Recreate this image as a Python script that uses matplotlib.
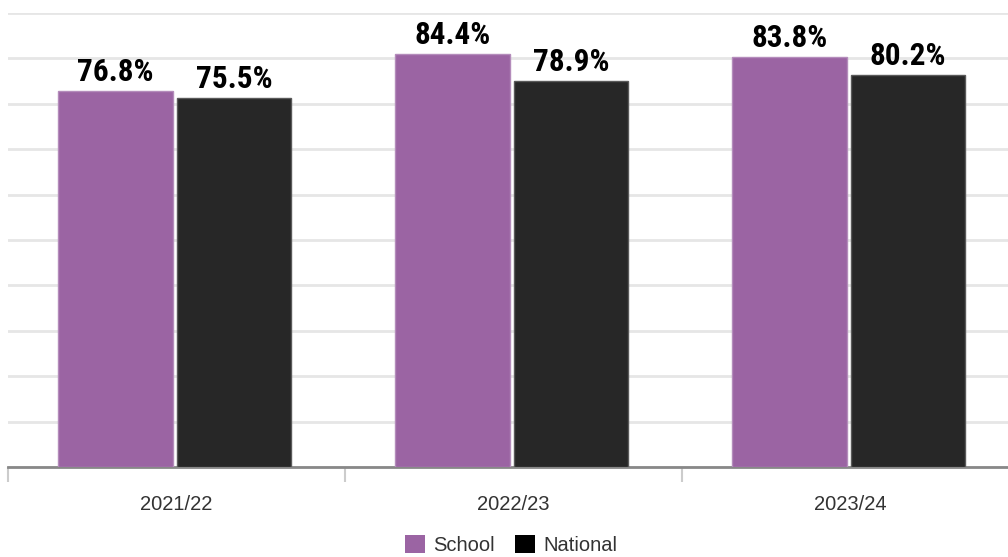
import matplotlib
matplotlib.use("Agg")
import matplotlib.pyplot as plt
from matplotlib.patches import Patch
import numpy as np

# Data
years = ["2021/22", "2022/23", "2023/24"]
school = [76.8, 84.4, 83.8]
national = [75.5, 78.9, 80.2]

school_color = "#9b64a3"
national_color = "#272727"

fig = plt.figure(figsize=(10.08, 5.57), dpi=100)
# plot area runs a bit past the right edge of the image, like the source
ax = fig.add_axes([8 / 1008, 90 / 557, 1011 / 1008, 454 / 557])

x = np.arange(len(years)) - 0.005
width = 0.34
gap = 0.012

b1 = ax.bar(x - width / 2 - gap / 2, school, width, color=school_color,
            edgecolor="#b48cbb", linewidth=1, zorder=3)
b2 = ax.bar(x + width / 2 + gap / 2, national, width, color=national_color,
            edgecolor="#5a5a5a", linewidth=1, zorder=3)

# value labels
for bars, vals in ((b1, school), (b2, national)):
    for rect, v in zip(bars, vals):
        ax.annotate(f"{v:.1f}%", (rect.get_x() + rect.get_width() / 2, v),
                    xytext=(0, 3), textcoords="offset points",
                    ha="center", va="bottom", fontsize=22.5,
                    fontweight="bold", fontstretch="condensed", color="#000000",
                    family=["Roboto Condensed", "DejaVu Sans"])

ymax = max(school + national) * 1.1
ax.set_ylim(0, ymax)
ax.set_yticks(np.linspace(0, ymax, 11))
ax.set_yticklabels([])
ax.tick_params(axis="y", length=0)
ax.yaxis.grid(True, color="#e6e6e6", linewidth=2, zorder=0)
ax.set_axisbelow(True)

ax.set_xlim(-0.5, len(years) - 0.5)
ax.set_xticks(np.arange(len(years)))
ax.set_xticklabels(years, fontsize=14.5, color="#333333",
                   family=["Liberation Sans", "DejaVu Sans"])
ax.tick_params(axis="x", length=0, pad=20)
# category separator ticks
ax.set_xticks(np.arange(len(years) + 1) - 0.5, minor=True)
ax.tick_params(axis="x", which="minor", length=11, width=1.5, color="#cccccc")

for side in ("top", "right", "left"):
    ax.spines[side].set_visible(False)
ax.spines["bottom"].set_color("#888888")
ax.spines["bottom"].set_linewidth(2)

handles = [Patch(facecolor=school_color, label="School"),
           Patch(facecolor="#000000", label="National")]
fig.legend(handles=handles, loc="center", bbox_to_anchor=(511 / 1008, 1 - 545 / 557),
           ncol=2, frameon=False, handlelength=1.0, handleheight=1.0,
           handletextpad=0.4, columnspacing=1.0,
           prop={"family": ["Liberation Sans", "DejaVu Sans"], "size": 14.5},
           labelcolor="#333333")

fig.savefig("out.png", dpi=100)
